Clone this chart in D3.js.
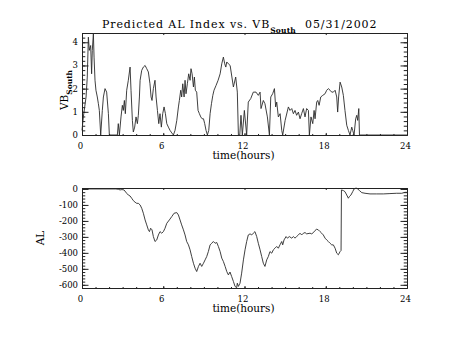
<!DOCTYPE html>
<html>
<head>
<meta charset="utf-8">
<script src="https://cdn.jsdelivr.net/npm/d3@7"></script>
<style>
  html, body { margin: 0; padding: 0; background: #fff; }
  svg { display: block; }
  text { font-family: "DejaVu Serif", serif; fill: #000; }
</style>
</head>
<body>
<svg id="chart" width="453" height="340"></svg>
<script>
// Time axis (hours of the day)
const xTicks = [0, 6, 12, 18, 24];

// Southward IMF component VB_South
const vbHours = [
  0.00, 0.10, 0.20, 0.30, 0.39, 0.47, 0.54, 0.64, 0.71, 0.76, 0.84, 0.89, 0.96, 1.03, 1.13, 1.21, 1.28, 1.38,
  1.50, 1.58, 1.70, 1.82, 1.95, 2.02, 2.61, 2.68, 2.76, 2.88, 2.98, 3.05, 3.13, 3.20, 3.30, 3.42, 3.55, 3.62,
  3.72, 3.79, 3.89, 3.99, 4.09, 4.16, 4.24, 4.29, 4.41, 4.53, 4.66, 4.78, 4.90, 5.02, 5.10, 5.17, 5.27, 5.39,
  5.47, 5.57, 5.67, 5.76, 5.86, 5.96, 6.06, 6.16, 6.26, 6.38, 6.50, 6.63, 6.75, 6.87, 7.00, 7.12, 7.19, 7.29,
  7.36, 7.44, 7.54, 7.61, 7.68, 7.78, 7.88, 7.98, 8.05, 8.13, 8.23, 8.30, 8.37, 8.47, 8.57, 8.67, 8.77, 8.87,
  8.97, 9.06, 9.16, 9.26, 9.36, 9.46, 9.56, 9.66, 9.75, 9.90, 10.05, 10.20, 10.32, 10.44, 10.54, 10.62, 10.69,
  10.81, 10.94, 11.18, 11.35, 11.47, 11.55, 11.65, 11.74, 11.84, 11.99, 12.16, 12.28, 12.46, 12.65, 12.85,
  13.02, 13.15, 13.22, 13.39, 13.51, 13.69, 13.84, 13.94, 14.08, 14.21, 14.30, 14.38, 14.50, 14.63, 14.75,
  14.82, 15.00, 15.24, 15.36, 15.49, 15.61, 15.73, 15.85, 15.98, 16.10, 16.22, 16.35, 16.47, 16.59, 16.72,
  16.79, 16.91, 17.04, 17.14, 17.21, 17.33, 17.41, 17.51, 17.63, 17.78, 17.95, 18.07, 18.19, 18.32, 18.44,
  18.56, 18.69, 18.81, 18.88, 18.95, 19.06, 19.18, 19.30, 19.42, 19.55, 19.67, 19.79, 19.92, 19.99, 20.09,
  20.21, 20.29, 20.36, 20.44, 20.49, 24.00
];
const vbValues = [
  0.20, 0.78, 1.21, 1.64, 2.50, 4.22, 3.65, 3.86, 2.64, 3.65, 4.37, 3.36, 2.36, 1.93, 1.64, 1.35, 1.06, 0,
  1.06, 1.64, 2.00, 1.85, 0.92, 0, 0, 0.49, 0, 0.78, 1.28, 1.06, 1.49, 0.92, 1.93, 2.36, 2.93, 1.93,
  0.63, 0.13, 0.34, 0.78, 0.49, 0.85, 1.64, 2.36, 2.79, 2.93, 3.00, 2.86, 2.72, 2.21, 1.64, 1.49, 2.00, 2.36,
  1.64, 1.06, 0.49, 0.92, 0.34, 0.92, 1.21, 0.92, 0.49, 0.34, 0.20, 0.09, 0, 0.20, 0.63, 1.21, 1.49, 1.93,
  1.64, 2.21, 1.64, 2.36, 1.78, 2.21, 2.64, 2.36, 2.86, 2.64, 2.07, 2.50, 1.93, 1.85, 1.06, 0.92, 0.78, 0.70,
  0.70, 0.49, 0.20, 0, 0.20, 0.92, 1.35, 1.71, 1.93, 2.14, 2.36, 2.64, 3.07, 3.36, 3.07, 2.93, 3.15,
  3.07, 3.00, 2.07, 2.50, 1.85, 0, 0, 0.85, 0, 1.06, 0, 1.42, 1.57, 1.85, 1.85,
  1.71, 1.85, 1.14, 1.49, 1.35, 0.78, 0, 1.64, 1.78, 2.00, 1.21, 1.42, 0.78, 0.92, 0.20,
  0, 0.63, 1.21, 1.06, 1.14, 0.92, 1.06, 0.85, 0.99, 0.70, 0.92, 1.14, 0.78, 1.14, 1.06,
  0, 0.78, 0.49, 1.06, 0.70, 1.42, 1.49, 1.28, 1.64, 1.71, 1.78, 1.93, 2.00, 1.93, 1.85,
  1.85, 1.93, 1.64, 0.99, 1.64, 2.28, 2.07, 1.71, 1.06, 0.42, 0.20, 0, 0.34, 0.20, 0,
  0.70, 0.85, 0.63, 1.14, 0, 0
];
const vbTicks = [0, 1, 2, 3, 4];

// Predicted AL index (nT)
const alHours = [
  0.00, 2.50, 2.68, 2.81, 2.95, 3.10, 3.30, 3.42, 3.55, 3.67, 3.79, 3.92, 4.04, 4.16, 4.29, 4.41, 4.53, 4.66,
  4.78, 4.90, 4.98, 5.07, 5.17, 5.27, 5.39, 5.52, 5.64, 5.76, 5.89, 6.01, 6.13, 6.26, 6.45, 6.63, 6.80, 7.00,
  7.12, 7.24, 7.36, 7.49, 7.61, 7.73, 7.86, 7.98, 8.10, 8.23, 8.35, 8.47, 8.60, 8.72, 8.84, 8.97, 9.09, 9.21,
  9.33, 9.46, 9.58, 9.70, 9.83, 9.95, 10.07, 10.20, 10.32, 10.44, 10.57, 10.69, 10.81, 10.93, 11.05, 11.18,
  11.30, 11.42, 11.47, 11.55, 11.67, 11.79, 11.92, 12.04, 12.16, 12.28, 12.41, 12.53, 12.65, 12.77, 12.90,
  13.02, 13.15, 13.27, 13.39, 13.51, 13.64, 13.76, 13.88, 14.01, 14.13, 14.25, 14.38, 14.50, 14.62, 14.75,
  14.82, 14.92, 15.07, 15.17, 15.31, 15.49, 15.61, 15.73, 15.85, 15.98, 16.10, 16.22, 16.35, 16.47, 16.59,
  16.84, 16.96, 17.09, 17.21, 17.33, 17.45, 17.58, 17.70, 17.82, 17.95, 18.07, 18.19, 18.32, 18.44, 18.56,
  18.69, 18.81, 18.93, 19.06, 19.13, 19.16, 19.30, 19.42, 19.55, 19.67, 19.74, 19.86, 19.99, 20.09, 20.24,
  20.36, 20.49, 20.66, 20.90, 21.27, 21.76, 22.25, 22.74, 23.24, 23.61, 23.85, 24.00
];
const alValues = [
  0, 0, -2, -6, -4, -6, -27, -38, -44, -58, -73, -83, -90, -90, -100, -121, -152, -194,
  -225, -256, -267, -246, -256, -298, -329, -319, -288, -267, -277, -267, -246, -215, -194, -173, -152, -148,
  -163, -194, -225, -256, -288, -329, -350, -381, -423, -465, -496, -517, -485, -465, -485, -465, -444, -423,
  -392, -350, -340, -329, -340, -335, -360, -392, -433, -454, -485, -517, -538, -520, -548, -579,
  -610, -618, -590, -610, -590, -527, -444, -381, -329, -288, -281, -288, -277, -267, -298,
  -340, -381, -423, -465, -485, -444, -423, -392, -402, -381, -371, -360, -371, -350, -329,
  -350, -319, -298, -308, -298, -308, -298, -308, -298, -288, -277, -288, -277, -273, -281,
  -277, -281, -273, -260, -252, -256, -267, -277, -288, -308, -319, -329, -340, -350, -350,
  -371, -402, -412, -392, -385, -6, -10, -17, -38, -58, -48, -38, -17, 0, 6,
  0, -10, -23, -27, -31, -31, -31, -29, -27, -27, -21, -21
];
const alTicks = [0, -100, -200, -300, -400, -500, -600];

const svg = d3.select("#chart");
svg.append("rect").attr("width", 453).attr("height", 340).attr("fill", "#fff");

const plotLeft = 82, plotRight = 407;
const x = d3.scaleLinear().domain([0, 24]).range([plotLeft, plotRight]);
const xMinor = d3.range(0, 25, 1);

// Draws a boxed panel with inward ticks on all four sides
function drawPanel(yScale, yMajor, yMinor, hours, values) {
  const [y0, y1] = yScale.range();
  const top = Math.min(y0, y1), bottom = Math.max(y0, y1);
  const h = bottom - top, w = plotRight - plotLeft;
  const xMaj = 0.02 * h, yMaj = 0.02 * w;
  const g = svg.append("g");

  const axes = [
    [d3.axisBottom(x).tickValues(xTicks).tickSize(-xMaj), `translate(0,${bottom})`],
    [d3.axisBottom(x).tickValues(xMinor).tickSize(-xMaj / 2), `translate(0,${bottom})`],
    [d3.axisTop(x).tickValues(xTicks).tickSize(-xMaj), `translate(0,${top})`],
    [d3.axisTop(x).tickValues(xMinor).tickSize(-xMaj / 2), `translate(0,${top})`],
    [d3.axisLeft(yScale).tickValues(yMajor).tickSize(-yMaj), `translate(${plotLeft},0)`],
    [d3.axisLeft(yScale).tickValues(yMinor).tickSize(-yMaj / 2), `translate(${plotLeft},0)`],
    [d3.axisRight(yScale).tickValues(yMajor).tickSize(-yMaj), `translate(${plotRight},0)`],
    [d3.axisRight(yScale).tickValues(yMinor).tickSize(-yMaj / 2), `translate(${plotRight},0)`]
  ];
  axes.forEach(([ax, tr]) => {
    const a = g.append("g").attr("transform", tr)
      .call(ax.tickSizeOuter(0).tickFormat(""));
    a.selectAll("path.domain").attr("stroke", "#222").attr("stroke-width", 1);
    a.selectAll(".tick line").attr("stroke", "#222").attr("stroke-width", 1);
    a.selectAll("text").remove();
  });

  // tick labels
  g.selectAll(".xl").data(xTicks).join("text")
    .attr("x", d => x(d) - 1.5).attr("y", bottom + 13.5)
    .attr("text-anchor", "middle").attr("font-size", 8.5)
    .text(d => d);
  g.selectAll(".yl").data(yMajor).join("text")
    .attr("x", 78).attr("y", d => yScale(d) + 3)
    .attr("text-anchor", "end").attr("font-size", 8.5)
    .text(d => d);

  // x axis title
  g.append("text").attr("x", x(12) - 1).attr("y", bottom + 24)
    .attr("text-anchor", "middle").attr("font-size", 10.5)
    .text("time(hours)");

  // data trace
  const line = d3.line().x(i => x(hours[i])).y(i => yScale(values[i]));
  g.append("path").attr("d", line(d3.range(hours.length)))
    .attr("fill", "none").attr("stroke", "#2a2a2a").attr("stroke-width", 0.9);
  return g;
}

// Upper panel: VB_South
const yVB = d3.scaleLinear().domain([0, 4.4]).range([135, 33]);
drawPanel(yVB, vbTicks, d3.range(0, 4.41, 0.2).map(v => +v.toFixed(1)), vbHours, vbValues);

// Lower panel: AL
const yAL = d3.scaleLinear().domain([-620, 6]).range([288, 188]);
drawPanel(yAL, alTicks, d3.range(-620, 1, 20), alHours, alValues);

// Title
const title = svg.append("text").attr("x", 102).attr("y", 28)
  .attr("font-size", 11).attr("letter-spacing", 0.9);
title.append("tspan").text("Predicted AL Index vs. VB");
title.append("tspan").attr("dy", 5).attr("font-size", 7.5).attr("font-weight", "bold")
  .attr("letter-spacing", 0.2).text("South");
title.append("tspan").attr("x", 305).attr("dy", -5).text("05/31/2002");

// Y axis titles
const vbLabel = svg.append("text")
  .attr("transform", "translate(68,90) rotate(-90)")
  .attr("text-anchor", "middle").attr("font-size", 10.5);
vbLabel.append("tspan").text("VB");
vbLabel.append("tspan").attr("dy", 4).attr("font-size", 7.5).attr("font-weight", "bold").text("South");

svg.append("text")
  .attr("transform", "translate(44,238) rotate(-90)")
  .attr("text-anchor", "middle").attr("font-size", 10.5)
  .text("AL");
</script>
</body>
</html>
